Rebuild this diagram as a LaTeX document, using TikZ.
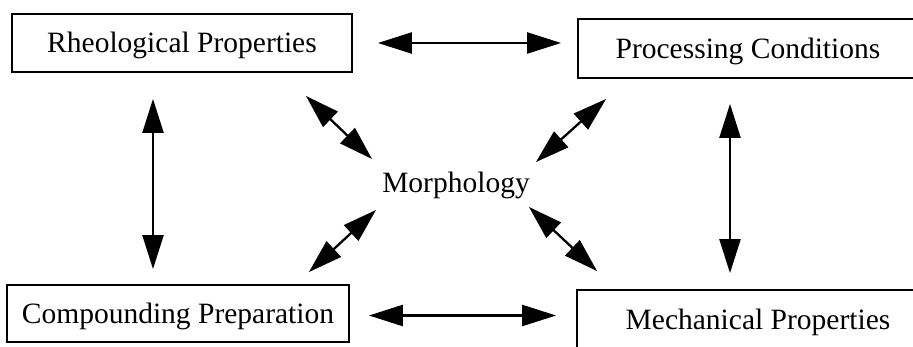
\documentclass[tikz,border=0pt]{standalone}
\usepackage{fontspec}
\setmainfont{Liberation Serif}
\usetikzlibrary{arrows.meta,calc}
\newcommand{\bigtxt}{\fontsize{29.5}{35}\selectfont}
\tikzset{
  bx/.style={draw=black, line width=1.8pt, fill=white, font=\bigtxt, text height=19.5pt, text depth=0pt, inner sep=0pt},
  lbl/.style={font=\bigtxt, text height=19.5pt, text depth=0pt, inner sep=0pt},
  arr2/.style={{Triangle[length=34pt,width=21pt]}-{Triangle[length=34pt,width=21pt]}, line width=2.3pt, color=black},
}

\begin{document}
\begin{tikzpicture}[x=1pt, y=-1pt]
      \useasboundingbox (0,0) rectangle (913,347);
      \clip (0,0) rectangle (913,347);
      % boxes (the right ones run past the edge)
      \node[bx, minimum width=340pt, minimum height=58pt] (rheo) at (182,43) {Rheological Properties};
      \node[bx, minimum width=340pt, minimum height=59pt] (proc) at (748,48.5) {Processing Conditions};
      \node[bx, minimum width=342pt, minimum height=57pt] (comp) at (178,313.5) {Compounding Preparation};
      \node[bx, minimum width=362pt, minimum height=60pt] (mech) at (758,320) {Mechanical Properties};
      \node[lbl] (morph) at (456,183) {Morphology};
      % outer ring
      \draw[arr2, shorten <=25pt, shorten >=16pt] (rheo.east) -- (rheo.east -| proc.west);
      \draw[arr2, shorten <=19pt, shorten >=20pt] ([yshift=-2pt]comp.east) -- ([yshift=-2pt]comp.east -| mech.west);
      \draw[arr2, shorten <=26pt, shorten >=15pt] ([xshift=-29pt]rheo.south) -- ([xshift=-29pt]rheo.south |- comp.north);
      \draw[arr2, shorten <=25pt, shorten >=16pt] ([xshift=-18pt]proc.south) -- ([xshift=-18pt]proc.south |- mech.north);
      % to and from the centre
      \draw[arr2] ([shift={(-47,23)}]rheo.south east) -- ([shift={(-10,-14)}]morph.north west);
      \draw[arr2] ([shift={(29,20)}]proc.south west) -- ([shift={(6,-11)}]morph.north east);
      \draw[arr2] ([shift={(-6,17)}]morph.south west) -- ([shift={(-41,-12)}]comp.north east);
      \draw[arr2] ([shift={(-1,14)}]morph.south east) -- ([shift={(21,-18)}]mech.north west);
    \end{tikzpicture}
\end{document}
